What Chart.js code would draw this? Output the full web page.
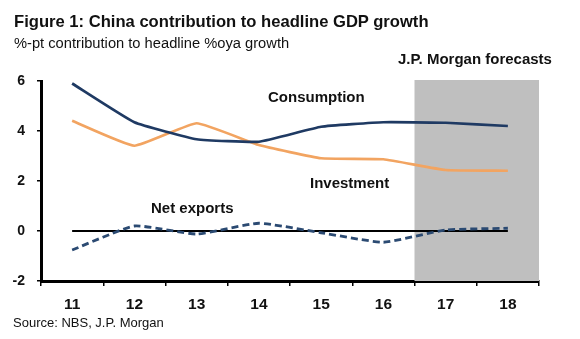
<!DOCTYPE html>
<html>
<head>
<meta charset="utf-8">
<script src="https://cdn.jsdelivr.net/npm/chart.js@4"></script>
<style>
  body { margin: 0; background: #fff; }
  #wrap { position: relative; width: 580px; height: 339px; font-family: "Liberation Sans", Arial, sans-serif; color: #111; }
  #chart { position: absolute; left: 0; top: 0; }
  .txt { position: absolute; white-space: nowrap; line-height: 1; }
  .b { font-weight: bold; }
</style>
</head>
<body>
<div id="wrap">
  <canvas id="chart" width="580" height="339"></canvas>
  <div class="txt b" style="left:14px; top:14px; font-size:16.6px;">Figure 1: China contribution to headline GDP growth</div>
  <div class="txt" style="left:14px; top:36px; font-size:14.7px;">%-pt contribution to headline %oya growth</div>
  <div class="txt b" style="left:398px; top:51px; font-size:15px;">J.P. Morgan forecasts</div>
  <div class="txt b" style="left:268px; top:89px; font-size:15px;">Consumption</div>
  <div class="txt b" style="left:310px; top:175px; font-size:15px;">Investment</div>
  <div class="txt b" style="left:151px; top:200px; font-size:15px;">Net exports</div>
  <div class="txt" style="left:13px; top:316px; font-size:13px;">Source: NBS, J.P. Morgan</div>
</div>
<script>
const anos = ["11", "12", "13", "14", "15", "16", "17", "18"];
const consumo = [5.9, 4.35, 3.67, 3.57, 4.17, 4.35, 4.33, 4.2];
const investimento = [4.41, 3.41, 4.31, 3.44, 2.91, 2.87, 2.44, 2.41];
const exportacoes = [-0.76, 0.2, -0.12, 0.31, -0.07, -0.45, 0.04, 0.11];
const inicioPrevisao = "17";

// caixa cinza das previsoes + linha do zero
const fundo = {
  id: "fundo",
  beforeDatasetsDraw(chart) {
    const { ctx, chartArea, scales } = chart;
    const x = scales.x, y = scales.y;
    const meio = (x.getPixelForValue(1) - x.getPixelForValue(0)) / 2;
    const x0 = x.getPixelForValue(anos.indexOf(inicioPrevisao)) - meio;
    ctx.save();
    ctx.fillStyle = "#bfbfbf";
    ctx.fillRect(x0, chartArea.top - 1, chartArea.right - x0, chartArea.bottom - chartArea.top + 1);
    const y0 = y.getPixelForValue(0);
    ctx.strokeStyle = "#000";
    ctx.lineWidth = 2;
    ctx.beginPath();
    ctx.moveTo(x.getPixelForValue(0), y0);
    ctx.lineTo(x.getPixelForValue(anos.length - 1), y0);
    ctx.stroke();
    ctx.restore();
  },
};

new Chart(document.getElementById("chart"), {
  type: "line",
  data: {
    labels: anos,
    datasets: [
      {
        label: "Consumption",
        data: consumo,
        borderWidth: 2.7,
        borderColor: "#1f3a63",
        pointRadius: 0,
        tension: 0.12,
      },
      {
        label: "Investment",
        data: investimento,
        borderWidth: 2.7,
        borderColor: "#f2a461",
        pointRadius: 0,
        tension: 0.12,
      },
      {
        label: "Net exports",
        data: exportacoes,
        borderWidth: 2.8,
        borderColor: "#2b4a72",
        borderDash: [7, 4],
        pointRadius: 0,
        tension: 0.15,
      },
    ],
  },
  plugins: [fundo],
  options: {
    responsive: false,
    animation: false,
    layout: { padding: { left: 0, right: 41, top: 81, bottom: 28 } },
    plugins: { legend: { display: false }, tooltip: { enabled: false } },
    scales: {
      x: {
        offset: true,
        afterFit(s) { s.height = 30; },
        grid: { offset: true, drawOnChartArea: false, tickLength: 5, color: "#000", lineWidth: 1.5 },
        border: { color: "#000", width: 3 },
        ticks: { color: "#111", font: { family: "Liberation Sans", size: 15.5, weight: "bold" }, padding: 9 },
      },
      y: {
        min: -2,
        max: 6,
        afterFit(s) { s.width = 41; },
        grid: { drawOnChartArea: false, tickLength: 4, color: "#000", lineWidth: 1.5 },
        border: { color: "#000", width: 3 },
        ticks: { stepSize: 2, color: "#111", font: { family: "Liberation Sans", size: 14, weight: "bold" }, padding: 12 },
      },
    },
  },
});
</script>
</body>
</html>
